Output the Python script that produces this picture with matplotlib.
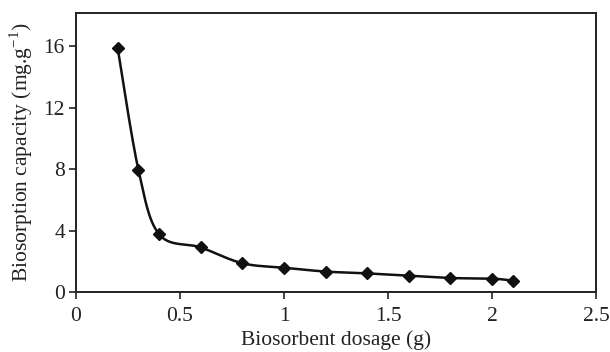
import numpy as np
import matplotlib
matplotlib.use("Agg")
import matplotlib.pyplot as plt

dosage = [0.2, 0.3, 0.4, 0.6, 0.8, 1.0, 1.2, 1.4, 1.6, 1.8, 2.0, 2.1]
capacity = [15.9, 7.95, 3.75, 2.9, 1.87, 1.58, 1.33, 1.21, 1.06, 0.91, 0.87, 0.74]
xticks = [0, 0.5, 1, 1.5, 2, 2.5]
xtick_labels = ["0", "0.5", "1", "1.5", "2", "2.5"]
yticks = [0, 4, 8, 12, 16]

plt.rcParams['font.family'] = ['Liberation Serif', 'DejaVu Serif']

def smooth(xs, ys, n=30, t=1/6):
    # Excel-like Bezier smoothing (Catmull-Rom control points)
    P = np.column_stack([xs, ys]).astype(float)
    out = [P[0]]
    for i in range(len(P) - 1):
        p0 = P[i - 1] if i > 0 else P[i]
        p1 = P[i]
        p2 = P[i + 1]
        p3 = P[i + 2] if i + 2 < len(P) else P[i + 1]
        c1 = p1 + (p2 - p0) * t
        c2 = p2 - (p3 - p1) * t
        s = np.linspace(0, 1, n)[1:, None]
        seg = ((1 - s) ** 3) * p1 + 3 * ((1 - s) ** 2) * s * c1 + 3 * (1 - s) * s ** 2 * c2 + s ** 3 * p2
        out.extend(seg)
    out = np.array(out)
    return out[:, 0], out[:, 1]

fig = plt.figure(figsize=(6.1, 3.52), dpi=100)
ax = fig.add_axes([76/610, 1 - 292/352, 520/610, 279/352])

sx, sy = smooth(dosage, capacity)
ax.plot(sx, sy, color='#111111', lw=1.8, zorder=2)
ax.plot(dosage, capacity, linestyle='none', marker='D', ms=6, color='#111111', zorder=3)

ax.set_xlim(0, 2.5)
ax.set_ylim(0, 18.15)
ax.set_xticks(xticks)
ax.set_xticklabels(xtick_labels)
ax.set_yticks(yticks)
for sp in ax.spines.values():
    sp.set_linewidth(1.4)
    sp.set_color('#222222')
ax.tick_params(direction='out', length=5, width=1.2, labelsize=15.5, colors='#222222', pad=3)
ax.tick_params(axis='x', pad=6)
ax.set_xlabel('Biosorbent dosage (g)', fontsize=15.5, color='#222222', labelpad=3)
ax.set_ylabel('Biosorption capacity (mg.g$^{\\mathregular{-1}}$)', fontsize=15.5, color='#222222', labelpad=6)

fig.savefig('out.png', dpi=100)
